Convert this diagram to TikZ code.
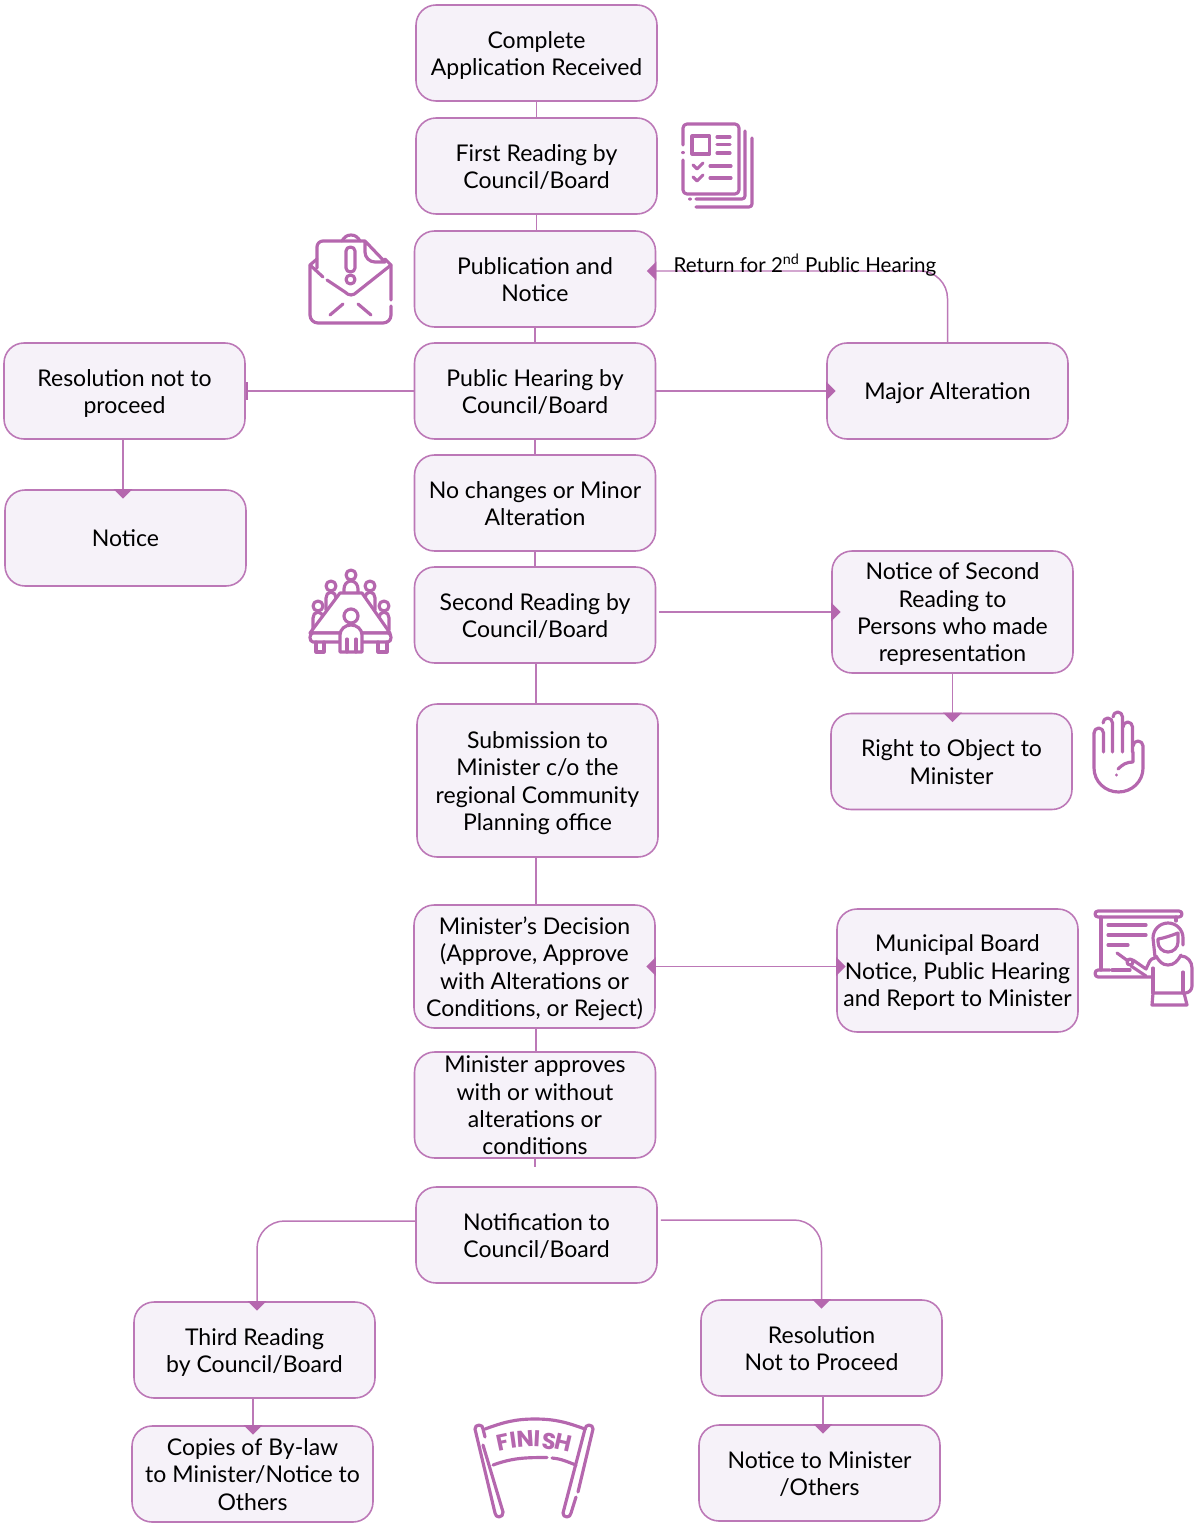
\documentclass[tikz,border=0pt]{standalone}
\usepackage{fontspec}
\setmainfont{Lato}
\newfontfamily\finishfont{Poppins}
\usetikzlibrary{arrows.meta}

\definecolor{boxline}{HTML}{BC78B7}
\definecolor{boxfill}{HTML}{F6F2F9}
\definecolor{tipfill}{HTML}{B567AE}

\newcommand{\topgap}{\rule{0pt}{14pt}}
\newcommand{\botgap}{\rule[-3.9pt]{0pt}{1pt}}

\tikzset{
  stepbox/.style={draw=boxline,fill=boxfill,line width=0.9pt,rounded corners=0.4cm,
    minimum width=4.82cm,minimum height=1.92cm,inner sep=0pt,align=center,
    font=\fontsize{13.1}{15.6}\selectfont},
  link/.style={draw=boxline,line width=0.85pt},
  tipped/.style={link,-{Triangle[length=0.19cm,width=0.37cm,color=tipfill]},shorten >=-0.19cm},
  icon/.style={draw=tipfill,line width=1.8pt,line cap=round,line join=round},
}

\begin{document}
\begin{tikzpicture}[x=0.02cm,y=-0.02cm]
      \useasboundingbox (0,0) rectangle (1194,1523);

      \node[stepbox] (received) at (536.5,53) {\topgap Complete\\Application Received\botgap};
      \node[stepbox] (first) at (536.5,166) {\topgap First Reading by\\Council/Board\botgap};
      \node[stepbox] (publication) at (535,279) {\topgap Publication and\\Notice\botgap};
      \node[stepbox] (hearing) at (535,391) {\topgap Public Hearing by\\Council/Board\botgap};
      \node[stepbox] (minor) at (535,503) {\topgap No changes or Minor\\Alteration\botgap};
      \node[stepbox] (second) at (535,615) {\topgap Second Reading by\\Council/Board\botgap};
      \node[stepbox,minimum height=3.06cm] (submission) at (537.5,780.5) {\topgap Submission to\\Minister c/o the\\regional Community\\Planning office\botgap};
      \node[stepbox,minimum height=2.46cm] (decision) at (534.5,966.5) {\topgap Minister’s Decision\\(Approve, Approve\\with Alterations or\\Conditions, or Reject)\botgap};
      \node[stepbox,minimum height=2.12cm] (approves) at (535,1105) {\rule{0pt}{11.4pt}Minister approves\\with or without\\alterations or\\conditions\rule[-1.4pt]{0pt}{1pt}};
      \node[stepbox] (notification) at (536.5,1235) {\topgap Notification to\\Council/Board\botgap};

      \node[stepbox] (noproceed) at (124.5,391) {\topgap Resolution not to\\proceed\botgap};
      \node[stepbox] (notice) at (125.5,538) {\topgap Notice\botgap};
      \node[stepbox] (major) at (947.5,391) {\topgap Major Alteration\botgap};
      \node[stepbox,minimum height=2.44cm] (noticesecond) at (952.5,612) {\topgap Notice of Second\\Reading to\\Persons who made\\representation\botgap};
      \node[stepbox] (object) at (951.5,761.5) {\topgap Right to Object to\\Minister\botgap};
      \node[stepbox,minimum height=2.46cm] (municipal) at (957.5,970.5) {\topgap Municipal Board\\Notice, Public Hearing\\and Report to Minister\botgap};
      \node[stepbox] (third) at (254.5,1350) {\topgap Third Reading\\by Council/Board\botgap};
      \node[stepbox] (copies) at (252.5,1474) {\topgap Copies of By-law\\to Minister/Notice to\\Others\botgap};
      \node[stepbox] (resolution) at (821.5,1348) {\topgap Resolution\\Not to Proceed\botgap};
      \node[stepbox] (noticeminister) at (819.5,1473) {\topgap Notice to Minister\\/Others\botgap};

      \coordinate (stub) at (535,1167);

      \draw[link] (received) -- (received |- first.north);
      \draw[link] (first) -- (first |- publication.north);
      \draw[link] (publication) -- (publication |- hearing.north);
      \draw[link] (hearing) -- (hearing |- minor.north);
      \draw[link] (minor) -- (minor |- second.north);
      \draw[link] ([xshift=0.02cm]second.south) -- ([xshift=0.02cm]second.south |- submission.north);
      \draw[link] ([xshift=-0.03cm]submission.south) -- ([xshift=-0.03cm]submission.south |- decision.north);
      \draw[link] ([xshift=0.03cm]decision.south) -- ([xshift=0.03cm]decision.south |- approves.north);
      \draw[link] (approves) -- (stub);

      \draw[tipped] (hearing) -- (major);
      \draw[link,-{Bar[width=0.36cm,line width=1.4pt,color=tipfill]}] (hearing) -- (noproceed);
      \draw[tipped] ([xshift=-0.03cm]noproceed.south) -- ([xshift=-0.03cm]noproceed.south |- notice.north);
      \draw[tipped,rounded corners=0.55cm] (major.north) |- ([yshift=0.16cm]publication.east);
      \node[font=\fontsize{11.7}{14}\selectfont,inner sep=0pt] (return) at (805,265) {Return for 2\textsuperscript{nd} Public Hearing};
      \draw[tipped,shorten <=0.06cm] (second.east |- noticesecond) -- (noticesecond);
      \draw[tipped] (noticesecond) -- (noticesecond |- object.north);
      \draw[tipped,{Triangle[length=0.19cm,width=0.37cm,color=tipfill]}-{Triangle[length=0.19cm,width=0.37cm,color=tipfill]},shorten <=-0.19cm] (decision) -- (municipal.west |- decision);

      \draw[tipped,rounded corners=0.55cm] ([yshift=0.28cm]notification.west) -| (third.north -| 257,0);
      \draw[tipped,rounded corners=0.55cm,shorten <=0.06cm] ([yshift=0.3cm]notification.east) -| (resolution.north);
      \draw[tipped] ([xshift=-0.03cm]third.south) -- ([xshift=-0.03cm]third.south |- copies.north);
      \draw[tipped] ([xshift=0.03cm]resolution.south) -- ([xshift=0.03cm]resolution.south |- noticeminister.north);

      % newspaper
      \draw[icon] (683,145) -- (683,128) to[out=90,in=180] (687,124) -- (735,124) to[out=0,in=90] (739,128) -- (739,190) to[out=-90,in=0] (735,194) -- (687,194) to[out=180,in=-90] (683,190) -- (683,160);
      \draw[icon] (683,152.5) -- (683,152.6);
      \draw[icon] (692,136) rectangle (709.5,154);
      \foreach \ly in {137,144.5,153} \draw[icon] (717,\ly) -- (730,\ly);
      \foreach \ly in {166,178} {
        \draw[icon] (693,\ly-1) -- (697,\ly+3) -- (703,\ly-3);
        \draw[icon] (710,\ly) -- (731,\ly);
      }
      \draw[icon] (745,131) -- (745,196) to[out=-90,in=0] (742,199) -- (696,199);
      \draw[icon] (690,199) -- (690,199.1);
      \draw[icon] (752,138) -- (752,204) to[out=-90,in=0] (749,207) -- (696,207);

      % envelope
      \draw[icon] (391,306) -- (391,315) to[out=-90,in=0] (383,323) -- (318,323) to[out=180,in=-90] (310,315) -- (310,265) -- (317,259);
      \draw[icon] (391,300) -- (391,265) -- (385,259);
      \draw[icon] (310,265) -- (323,277);
      \draw[icon] (327,280) -- (345,292) to[out=-40,in=180] (351,295) to[out=0,in=220] (357,292) -- (391,265);
      \draw[icon] (317,268) -- (317,247) to[out=90,in=180] (323,241) -- (365,241) -- (385,262) -- (375,262) to[out=180,in=-90] (365,252) -- (365,241);
      \draw[icon] (342,241) to[out=60,in=180] (351,235) to[out=0,in=120] (360,241);
      \draw[icon] (346,251) to[out=90,in=180] (350.5,247) to[out=0,in=90] (355,251) -- (355,268) to[out=-90,in=0] (350.5,272) to[out=180,in=-90] (346,268) -- cycle;
      \draw[icon] (350.5,279.5) circle (4.5);
      \draw[icon] (330,315) -- (343,304);
      \draw[icon] (358,304) -- (371,315);

      % meeting table
      \draw[icon] (351,575) circle (5);
      \draw[icon] (344,592) -- (344,589) to[out=90,in=180] (351,581) to[out=0,in=90] (358,589) -- (358,592);
      \foreach \hx/\hy in {331/586,370/586,318/606,384/606} {
        \draw[icon] (\hx,\hy) circle (5);
        \draw[icon] (\hx-5,\hy+24) -- (\hx-5,\hy+12) to[out=90,in=180] (\hx,\hy+6) to[out=0,in=90] (\hx+5,\hy+12) -- (\hx+5,\hy+24);
      }
      \draw[icon,fill=white] (340,593) -- (362,593) -- (390,633) -- (310,633) -- cycle;
      \draw[icon,fill=white] (313,633) -- (388,633) to[out=0,in=90] (391,637.5) to[out=-90,in=0] (388,642) -- (313,642) to[out=180,in=-90] (310,637.5) to[out=90,in=180] cycle;
      \draw[icon] (316,642) -- (316,652) -- (324,652) -- (324,642);
      \draw[icon] (378,642) -- (378,652) -- (387,652) -- (387,642);
      \draw[icon,fill=white] (340,652) -- (340,635) to[out=90,in=180] (351,625) to[out=0,in=90] (362,635) -- (362,652) -- cycle;
      \draw[icon] (347,639) -- (347,652);
      \draw[icon] (356,639) -- (356,652);
      \draw[icon,fill=white] (351,616) circle (7);

      % raised hand
      \draw[icon] (1094,733) -- (1094,768) to[out=-90,in=180] (1118.5,792) to[out=0,in=-90] (1143,768) -- (1143,746) to[out=90,in=0] (1138,741) to[out=180,in=90] (1133,746);
      \foreach \fx/\ft in {1094/728,1103/718,1113/712,1123/722}
        \draw[icon] (\fx,\ft+5) to[out=90,in=180] (\fx+4.75,\ft) to[out=0,in=90] (\fx+9.5,\ft+5) -- (\fx+9.5,752);
      \draw[icon] (1133,752) -- (1133,762) to[out=180,in=45] (1118,769);
      \draw[icon] (1116.5,775) -- (1116.5,775.1);

      % presenter
      \draw[icon] (1098,911) -- (1179,911) to[out=0,in=90] (1182,914) to[out=-90,in=0] (1179,917) -- (1098,917) to[out=180,in=-90] (1095,914) to[out=90,in=180] cycle;
      \draw[icon] (1101,917) -- (1101,970);
      \draw[icon] (1176,917) -- (1176,921);
      \draw[icon] (1110,970) -- (1098,970) to[out=180,in=90] (1095,973.5) to[out=-90,in=180] (1098,977) -- (1153,977);
      \draw[icon] (1112,970) -- (1130,970);
      \draw[icon] (1108,925) -- (1146,925);
      \draw[icon] (1108,935) -- (1146,935);
      \draw[icon] (1108,945) -- (1128,945);
      \draw[icon] (1117,953) -- (1128,961);
      \draw[icon] (1130,962) circle (3);
      \draw[icon] (1133,960) -- (1146,969) to[out=60,in=180] (1155,958);
      \draw[icon] (1131,966) -- (1146,976);
      \draw[icon] (1153,968) -- (1153,993) (1183,972) -- (1183,993);
      \draw[icon] (1153,993) -- (1152,1005) -- (1187,1005) -- (1184,993);
      \draw[icon] (1181,956) to[out=0,in=90] (1192,968) -- (1192,986) to[out=-90,in=0] (1185,993) -- (1153,993);
      \draw[icon] (1155,957) -- (1153,938) to[out=90,in=180] (1168,923) to[out=0,in=90] (1183,938) -- (1183,945);
      \draw[icon] (1178,933) -- (1178,942) to[out=-90,in=0] (1168,952) to[out=180,in=-90] (1158,942) -- (1158,939) to[out=10,in=200] (1178,933);
      \draw[icon] (1156,956) to[out=-60,in=180] (1168,965) to[out=0,in=-120] (1181,955);

      % finish banner
      \draw[icon] (485,1429) to[out=20,in=180] (535,1419) to[out=0,in=160] (585,1429);
      \draw[icon] (493,1465) to[out=20,in=180] (547,1457.5);
      \draw[icon] (552,1458) to[out=-5,in=160] (576,1465);
      \draw[icon] (483,1445) -- (503,1512) to[out=-80,in=0] (499,1517) to[out=180,in=-80] (495,1513) -- (475,1429) to[out=95,in=180] (479,1425) to[out=0,in=80] (483,1429) -- (485,1437);
      \draw[icon] (585,1429) to[out=80,in=180] (589,1425) to[out=0,in=85] (593,1429) -- (578,1492);
      \draw[icon] (576,1497) -- (571,1513) to[out=-100,in=0] (567,1517) to[out=180,in=-100] (563,1513) -- (585,1429);
      \foreach \ch/\lx/\ly/\la [count=\li] in {F/503/1442/12,I/513/1440/8,N/525/1439/4,I/537/1439/-3,S/549/1441/-8,H/563/1443/-13}
        \node[text=tipfill,font=\fontsize{13}{15}\finishfont\bfseries,rotate=\la,inner sep=0pt] (finish\li) at (\lx,\ly) {\ch};
    \end{tikzpicture}
\end{document}
